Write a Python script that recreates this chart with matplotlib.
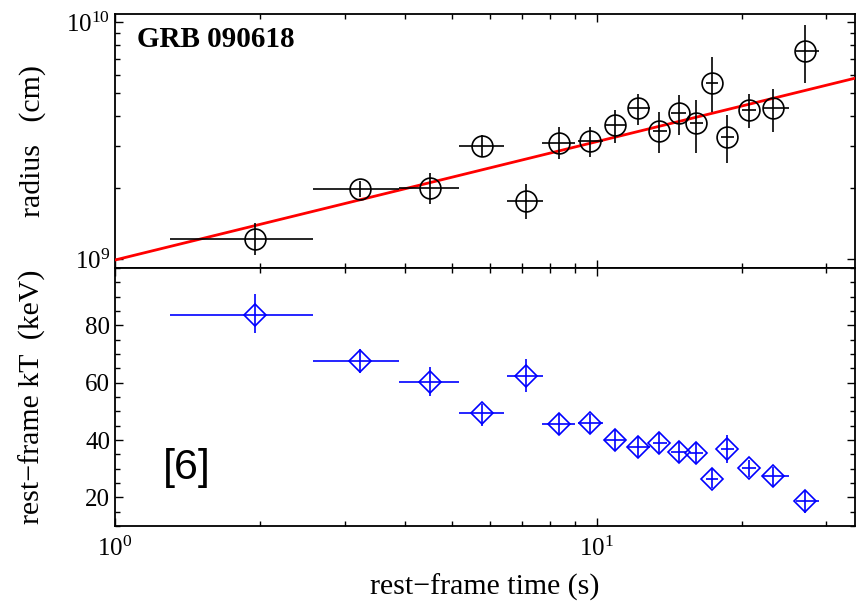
import numpy as np
import matplotlib
matplotlib.use("Agg")
import matplotlib.pyplot as plt
from matplotlib.ticker import LogLocator, MultipleLocator, FixedLocator, NullFormatter

plt.rcParams["font.family"] = ["Liberation Serif", "DejaVu Serif"]
plt.rcParams["mathtext.fontset"] = "stix"

# ---- time bins (rest frame, s) ------------------------------------------
t_mid = [1.95, 3.23, 4.52, 5.79, 7.12, 8.34, 9.67, 10.9, 12.2, 13.5,
         14.8, 16.1, 17.4, 18.7, 20.7, 23.3, 27.1]
t_lo = [1.30, 2.58, 3.88, 5.17, 6.53, 7.70, 9.13, 10.4, 11.6, 13.1,
        14.3, 15.6, 16.9, 18.1, 20.0, 22.2, 25.9]
t_hi = [2.58, 3.88, 5.17, 6.41, 7.73, 9.04, 10.3, 11.5, 12.9, 14.0,
        15.3, 16.6, 17.9, 19.3, 21.4, 25.1, 28.9]

# ---- radius (1e9 cm) ----------------------------------------------------
radius = [1.22, 1.98, 2.00, 2.99, 1.76, 3.10, 3.16, 3.66, 4.33, 3.48,
          4.11, 3.73, 5.52, 3.26, 4.24, 4.33, 7.53]
radius_lo = [1.04, 1.83, 1.71, 2.68, 1.48, 2.65, 2.70, 3.10, 3.66, 2.81,
             3.32, 2.81, 4.16, 2.55, 3.56, 3.42, 5.52]
radius_hi = [1.42, 2.14, 2.31, 3.32, 2.08, 3.59, 3.62, 4.24, 4.95, 4.16,
             4.91, 4.67, 7.11, 4.04, 4.95, 5.20, 9.71]

# power-law fit, read at the two ends of the axis
fit_t = [1.0, 34.4]
fit_r = [0.99, 5.79]

# ---- rest-frame kT (keV) ------------------------------------------------
kT = [83.5, 67.4, 60.3, 49.5, 62.5, 45.6, 45.9, 40.0, 37.5, 38.9,
      35.8, 35.4, 26.3, 36.8, 30.2, 27.4, 18.6]
kT_lo = [77.5, 63.5, 55.4, 45.0, 56.8, 41.7, 42.5, 36.5, 34.0, 35.0,
         31.9, 31.9, 23.2, 32.0, 27.0, 23.5, 14.7]
kT_hi = [90.9, 71.9, 65.3, 52.6, 68.4, 49.5, 49.0, 43.5, 41.0, 42.8,
         39.3, 39.3, 30.2, 41.7, 33.0, 30.5, 22.4]
kT_ticks = [20, 40, 60, 80]

t = np.array(t_mid)
xerr = [t - np.array(t_lo), np.array(t_hi) - t]
r = np.array(radius) * 1e9
rerr = [r - np.array(radius_lo) * 1e9, np.array(radius_hi) * 1e9 - r]
k = np.array(kT)
kerr = [k - np.array(kT_lo), np.array(kT_hi) - k]

fig = plt.figure(figsize=(8.56, 6.02), dpi=100)
ax1 = fig.add_axes([0.1343, 0.5548, 0.8645, 0.4219])
ax2 = fig.add_axes([0.1343, 0.1262, 0.8645, 0.4286], sharex=ax1)

FS = 18      # tick labels
LFS = 21.5   # axis labels

# top: radius
ax1.plot(np.array(fit_t), np.array(fit_r) * 1e9, color="red", lw=2.0, zorder=3)
ax1.errorbar(t, r, xerr=xerr, yerr=rerr, fmt="o", ms=15, mfc="none",
             mec="black", mew=1.2, ecolor="black", elinewidth=1.2,
             capsize=0, zorder=4)
ax1.set_xscale("log")
ax1.set_yscale("log")
ax1.set_xlim(1, 34.4)
ax1.set_ylim(9.16e8, 1.08e10)
ax1.set_ylabel("radius   (cm)", fontsize=LFS)
ax1.yaxis.set_label_coords(-0.093, 0.5)
ax1.text(0.03, 0.90, "GRB 090618", transform=ax1.transAxes,
         fontsize=21, fontweight="bold", va="center", ha="left")
ax1.yaxis.set_major_locator(LogLocator(base=10, numticks=5))
ax1.yaxis.set_minor_locator(LogLocator(base=10, subs=np.arange(2, 10), numticks=20))
ax1.yaxis.set_minor_formatter(NullFormatter())
plt.setp(ax1.get_xticklabels(), visible=False)

# bottom: temperature
ax2.errorbar(t, k, xerr=xerr, yerr=kerr, fmt="D", ms=11, mfc="none",
             mec="blue", mew=1.2, ecolor="blue", elinewidth=1.2,
             capsize=0, zorder=4)
ax2.set_ylim(10, 100)
ax2.yaxis.set_major_locator(FixedLocator(kT_ticks))
ax2.yaxis.set_minor_locator(MultipleLocator(5))
ax2.set_ylabel("rest\u2212frame kT  (keV)", fontsize=LFS)
ax2.yaxis.set_label_coords(-0.093, 0.5)
ax2.set_xlabel("rest\u2212frame time (s)", fontsize=LFS)
ax2.xaxis.set_label_coords(0.5, -0.185)
ax2.xaxis.set_major_locator(LogLocator(base=10, numticks=5))
ax2.xaxis.set_minor_locator(LogLocator(base=10, subs=np.arange(2, 10), numticks=20))
ax2.xaxis.set_minor_formatter(NullFormatter())
ax2.text(0.065, 0.225, "[6]", transform=ax2.transAxes, fontsize=31,
         family=["Liberation Sans", "DejaVu Sans"], va="center", ha="left")

for ax in (ax1, ax2):
    ax.tick_params(which="both", direction="in", top=True, right=True,
                   labelsize=FS, width=1.0)
    ax.tick_params(which="major", length=6)
    ax.tick_params(which="minor", length=3.5)
    for s in ax.spines.values():
        s.set_linewidth(1.3)
ax2.tick_params(axis="x", pad=8)

fig.savefig("out.png", dpi=100)
